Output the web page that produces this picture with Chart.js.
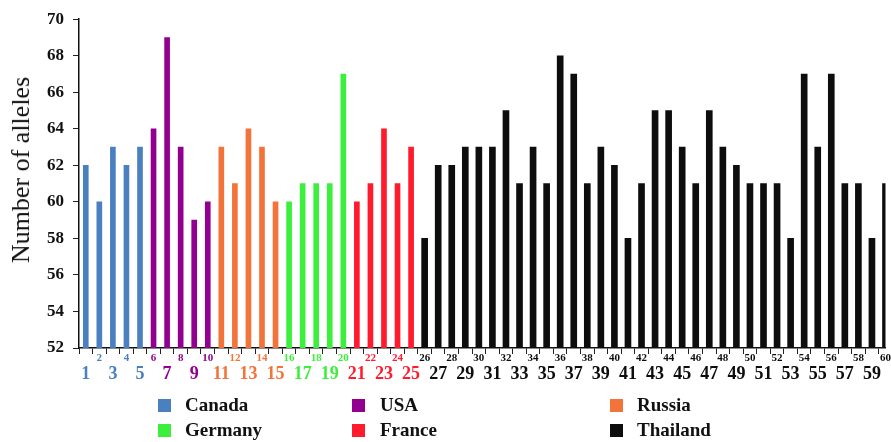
<!DOCTYPE html>
<html>
<head>
<meta charset="utf-8">
<script src="https://cdn.jsdelivr.net/npm/chart.js@4"></script>
<style>
  html, body { margin: 0; padding: 0; background: #fff; overflow: hidden; }
  #wrap { position: relative; width: 891px; height: 442px; }
  canvas { position: absolute; left: 0; top: 0; }
  .leg { position: absolute; font-family: "Liberation Serif", "DejaVu Serif", serif; font-weight: bold; font-size: 19px; color: #111; line-height: 20px; white-space: nowrap; }
  .leg span.sw { position: absolute; width: 13px; height: 13px; top: 4px; }
  #ytitle { position: absolute; left: 21px; top: 170px; transform: translate(-50%, -50%) rotate(-90deg); font-family: "Liberation Serif", "DejaVu Serif", serif; font-size: 26px; color: #111; white-space: nowrap; line-height: 26px; }
</style>
</head>
<body>
<div id="wrap">
  <canvas id="c" width="891" height="442"></canvas>
  <div id="ytitle">Number of alleles</div>
</div>
<script>
// ---- data ----
const countries = ["Canada", "USA", "Russia", "Germany", "France", "Thailand"];
const colors = ["#4a7fc0", "#92008f", "#f2743a", "#3def3d", "#ff1a2c", "#0d0d0d"];
const canadaIds = [1, 2, 3, 4, 5];
const canadaVals = [62, 60, 63, 62, 63];
const usaIds = [6, 7, 8, 9, 10];
const usaVals = [64, 69, 63, 59, 60];
const russiaIds = [11, 12, 13, 14, 15];
const russiaVals = [63, 61, 64, 63, 60];
const germanyIds = [16, 17, 18, 19, 20];
const germanyVals = [60, 61, 61, 61, 67];
const franceIds = [21, 22, 23, 24, 25];
const franceVals = [60, 61, 64, 61, 63];
const thailandIds = [26,27,28,29,30,31,32,33,34,35,36,37,38,39,40,41,42,43,44,45,46,47,48,49,50,51,52,53,54,55,56,57,58,59,60];
const thailandVals = [58,62,62,63,63,63,65,61,63,61,68,67,61,63,62,58,61,65,65,63,61,65,63,62,61,61,61,58,67,63,67,61,61,58,61];
const yTicks = [52, 54, 56, 58, 60, 62, 64, 66, 68, 70];

const groupIds = [canadaIds, usaIds, russiaIds, germanyIds, franceIds, thailandIds];
const groupVals = [canadaVals, usaVals, russiaVals, germanyVals, franceVals, thailandVals];

function colorFor(n) {
  for (let g = 0; g < groupIds.length; g++) if (groupIds[g].includes(n)) return colors[g];
  return "#000";
}
const allIds = groupIds.flat();
const evenIds = allIds.filter(n => n % 2 === 0);
const oddIds = allIds.filter(n => n % 2 === 1);
const boundaries = [0.5].concat(allIds.map(n => n + 0.5));

const datasets = groupIds.map((ids, g) => ({
  label: countries[g],
  data: ids.map((id, i) => ({ x: id, y: groupVals[g][i] })),
  backgroundColor: colors[g],
  borderWidth: 0,
  barThickness: g === 5 ? 6 : 5,
  grouped: false
}));

const serif = "'Liberation Serif', 'DejaVu Serif', serif";
const X_MIN = 0.5, X_MAX = 60.0;

function labelAxis(ids, size, weight, h) {
  return {
    type: 'linear', position: 'bottom', min: X_MIN, max: X_MAX, offset: false,
    afterBuildTicks: s => { s.ticks = ids.map(v => ({ value: v })); },
    afterFit: s => { s.height = h; },
    grid: { display: false, drawTicks: false, offset: false },
    border: { display: false },
    ticks: {
      autoSkip: false, maxRotation: 0, padding: 0,
      font: { family: serif, size: size, weight: weight },
      color: ctx => colorFor(ctx.tick.value),
      callback: v => String(v)
    }
  };
}

new Chart(document.getElementById('c'), {
  type: 'bar',
  data: { datasets },
  options: {
    responsive: false,
    animation: false,
    events: [],
    layout: { autoPadding: false, padding: { top: 18, right: 0, bottom: 57, left: 0 } },
    plugins: { legend: { display: false }, tooltip: { enabled: false } },
    scales: {
      x: {
        type: 'linear', position: 'bottom', min: X_MIN, max: X_MAX, offset: false,
        afterBuildTicks: s => { s.ticks = boundaries.map(v => ({ value: v })); },
        afterFit: s => { s.height = 4; },
        grid: { display: true, offset: false, drawOnChartArea: false, drawTicks: true, tickLength: 6, color: '#222', lineWidth: 1 },
        border: { display: true, color: '#111', width: 1.5 },
        ticks: { display: false }
      },
      xEven: labelAxis(evenIds, 11, 'bold', 12),
      xOdd: labelAxis(oddIds, 18, 'bold', 21),
      y: {
        min: 52, max: 70,
        afterBuildTicks: s => { s.ticks = yTicks.map(v => ({ value: v })); },
        afterFit: s => { s.width = 79; },
        grid: { display: true, drawOnChartArea: false, drawTicks: true, tickLength: 6, color: '#222' },
        border: { display: true, color: '#111', width: 1.5 },
        ticks: { padding: 9, color: '#111', font: { family: serif, size: 17, weight: 'bold' } }
      }
    }
  }
});

// ---- HTML legend (3 columns x 2 rows) ----
const legPos = [[158, 395], [352, 395], [610, 395], [158, 420], [352, 420], [610, 420]];
const wrap = document.getElementById('wrap');
countries.forEach((name, i) => {
  const d = document.createElement('div');
  d.className = 'leg';
  d.style.left = legPos[i][0] + 'px';
  d.style.top = legPos[i][1] + 'px';
  d.innerHTML = '<span class="sw" style="left:0;background:' + colors[i] + '"></span><span style="margin-left:' + (i % 3 === 1 ? 28 : 27) + 'px">' + name + '</span>';
  wrap.appendChild(d);
});
</script>
</body>
</html>
